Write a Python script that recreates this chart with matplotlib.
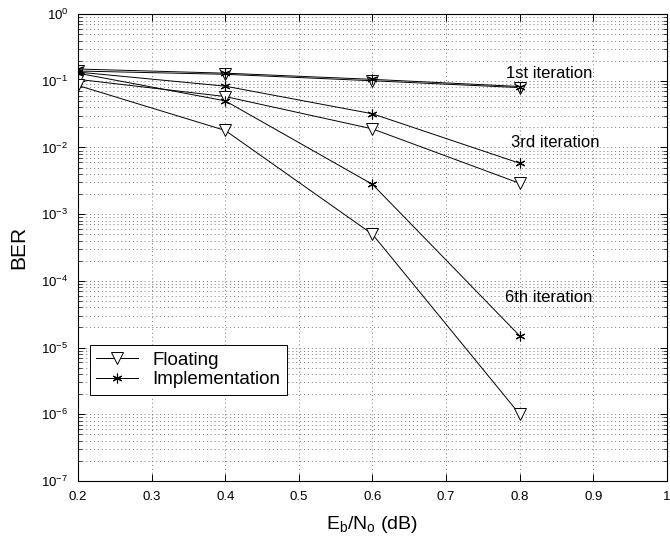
import numpy as np
import matplotlib
matplotlib.use("Agg")
import matplotlib.pyplot as plt
from matplotlib.ticker import LogLocator, NullFormatter

plt.rcParams['font.family'] = ['Liberation Sans', 'DejaVu Sans']
plt.rcParams['mathtext.fontset'] = 'custom'
plt.rcParams['mathtext.rm'] = 'Liberation Sans'
plt.rcParams['mathtext.it'] = 'Liberation Sans'

ebno = [0.2, 0.4, 0.6, 0.8]

# BER per iteration
float_1st = [0.14, 0.125, 0.10, 0.079]
impl_1st = [0.15, 0.13, 0.105, 0.082]
float_3rd = [0.105, 0.058, 0.019, 0.0029]
impl_3rd = [0.135, 0.083, 0.032, 0.0058]
float_6th = [0.085, 0.018, 5e-4, 1e-6]
impl_6th = [0.13, 0.05, 0.0028, 1.5e-5]

iter_labels = ["1st iteration", "3rd iteration", "6th iteration"]
label_x = [0.84, 0.848, 0.84]
label_y = [0.13, 0.0117, 5.7e-5]

fig = plt.figure(figsize=(6.7, 5.41), dpi=100)
ax = fig.add_axes([0.1164, 0.111, 0.879, 0.863])

fl = dict(color='k', lw=0.7, marker='v', ms=8, mfc='white', mec='k', mew=0.7)
im = dict(color='k', lw=0.7, marker=(6, 2, 0), ms=7, mfc='k', mec='k', mew=0.8)

ax.semilogy(ebno, float_1st, label='Floating', **fl)
ax.semilogy(ebno, impl_1st, label='Implementation', **im)
ax.semilogy(ebno, float_3rd, **fl)
ax.semilogy(ebno, impl_3rd, **im)
ax.semilogy(ebno, float_6th, **fl)
ax.semilogy(ebno, impl_6th, **im)

for t, x, y in zip(iter_labels, label_x, label_y):
    ax.text(x, y, t, ha='center', va='center', fontsize=12)

ax.set_xlim(0.2, 1.0)
ax.set_ylim(1e-7, 1)
ax.set_xticks(np.arange(0.2, 1.01, 0.1))
ax.set_xticklabels(['0.2', '0.3', '0.4', '0.5', '0.6', '0.7', '0.8', '0.9', '1'])
ax.yaxis.set_major_locator(LogLocator(base=10, numticks=10))
ax.yaxis.set_minor_locator(LogLocator(base=10, subs=np.arange(2, 10), numticks=100))
ax.yaxis.set_minor_formatter(NullFormatter())

ax.tick_params(which='both', direction='in', top=True, right=True, labelsize=9.5)
ax.tick_params(which='major', length=5, width=0.7, pad=7)
ax.tick_params(which='minor', length=3, width=0.5)
for s in ax.spines.values():
    s.set_linewidth(0.8)

ax.grid(True, which='major', linestyle=(0, (1, 3)), color='#777777', lw=0.7)
ax.grid(True, which='minor', axis='y', linestyle=(0, (1, 3)), color='#777777', lw=0.7)

ax.set_xlabel(r'E$_\mathrm{b}$/N$_\mathrm{o}$ (dB)', fontsize=14, labelpad=8)
ax.set_ylabel('BER', fontsize=15, labelpad=9)

leg = ax.legend(loc='lower left', bbox_to_anchor=(0.02, 0.184), fontsize=13.5,
                fancybox=False, edgecolor='k', framealpha=1, handlelength=2.2,
                borderpad=0.35, labelspacing=0.15, borderaxespad=0)
leg.get_frame().set_linewidth(0.7)

fig.savefig('out.png', dpi=100)
